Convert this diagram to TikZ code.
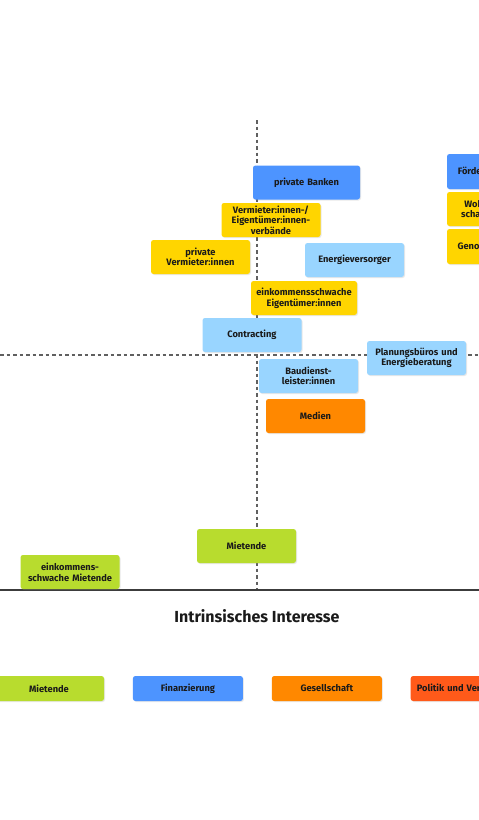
\documentclass[tikz,border=0pt]{standalone}
\usepackage{fontspec}
\setmainfont{Fira Sans}
\usepackage{xcolor}
\usetikzlibrary{positioning,shadows}
\definecolor{akgreen}{HTML}{B8DC2E}
\definecolor{akblue}{HTML}{4D94FF}
\definecolor{aklight}{HTML}{99D5FF}
\definecolor{akyellow}{HTML}{FFD500}
\definecolor{akorange}{HTML}{FF8800}
\definecolor{akred}{HTML}{FF5A1A}
\definecolor{akaxis}{HTML}{3C3C3C}
\definecolor{akdash}{HTML}{606060}
\definecolor{aktext}{HTML}{1A1A1A}

\begin{document}
\begin{tikzpicture}[
  x=1pt, y=-1pt,
  font=\fontsize{9.3}{10.6}\selectfont\bfseries,
  actor/.style={rounded corners=2.5pt, align=center, inner sep=1pt, text=aktext,
    minimum width=99pt, minimum height=34pt, text width=97pt,
    drop shadow={opacity=0.18, shadow xshift=1pt, shadow yshift=-1pt}},
  mieter/.style={actor, fill=akgreen},
  finanz/.style={actor, fill=akblue},
  technik/.style={actor, fill=aklight},
  eigen/.style={actor, fill=akyellow},
  gesell/.style={actor, fill=akorange},
  politik/.style={actor, fill=akred},
  legende/.style={minimum width=110pt, minimum height=25pt, text width=108pt},
  grid/.style={akdash, line width=1.1pt, dash pattern=on 3.5pt off 3pt}
]
\clip (0,0) rectangle (479,820);
\fill[white] (0,0) rectangle (479,820);

% Achsen
\coordinate (vtop) at (257,120);
\coordinate (vbot) at (257,590);
\coordinate (hleft) at (0,355);
\coordinate (hright) at (479,355);
\coordinate (aleft) at (0,590);
\coordinate (aright) at (479,590);
\draw[grid] (vtop) -- (vbot);
\draw[grid] (hleft) -- (hright);
\draw[akaxis, line width=2pt] (aleft) -- (aright);

% Akteure
\node[finanz, minimum width=107pt] (banken) at (306.5,182.5) {private Banken};
\node[eigen, minimum width=98pt] (verbaende) at (271,220) {Vermieter:innen-/\\Eigentümer:innen-\\verbände};
\node[eigen] (vermieter) at (200.5,257) {private\\Vermieter:innen};
\node[technik] (energie) at (354.5,260) {Energieversorger};
\node[eigen, minimum width=106pt, text width=104pt] (eigentuemer) at (304,298) {einkommensschwache\\Eigentümer:innen};
\node[technik, minimum width=98pt] (contracting) at (252,335) {Contracting};
\node[technik] (planung) at (416.5,358) {Planungsbüros und\\Energieberatung};
\node[technik] (bau) at (308.5,376) {Baudienst-\\leister:innen};
\node[gesell] (medien) at (315.5,416) {Medien};
\node[mieter] (mietende) at (246.5,546) {Mietende};
\node[mieter, minimum width=98pt] (armmiete) at (70,572) {einkommens-\\schwache Mietende};
\node[finanz, minimum height=35pt] (foerder) at (496.5,171.5) {Fördermittelgeber};
\node[eigen] (wohnung) at (496.5,209) {Wohnungswirt-\\schaftsverbände};
\node[eigen, minimum height=35pt] (genossen) at (496.5,246.5) {Genossenschaften};

% Achsentitel
\node[font=\fontsize{16}{18}\selectfont\bfseries, text=aktext] (titel) at (257,616) {Intrinsisches Interesse};

% Legende
\node[mieter, legende] (lmiete) at (49,688.5) {Mietende};
\node[finanz, legende, right=28.5pt of lmiete] (lfinanz) {Finanzierung};
\node[gesell, legende, right=28.5pt of lfinanz] (lgesell) {Gesellschaft};
\node[politik, legende, right=28.5pt of lgesell] (lpolitik) {Politik und Verwaltung};
\end{tikzpicture}
\end{document}
